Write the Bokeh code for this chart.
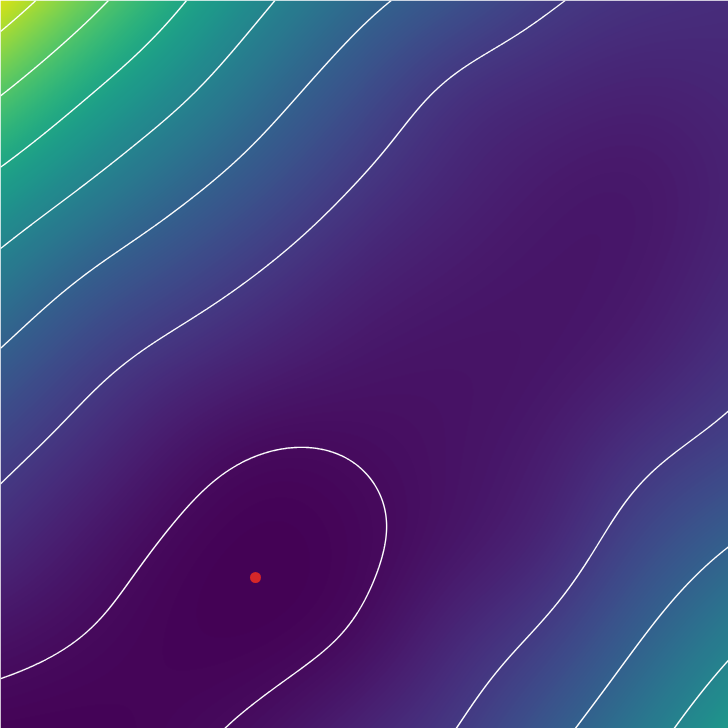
import numpy as np
from bokeh.plotting import figure
from bokeh.models import Range1d, LinearColorMapper
from bokeh.palettes import Viridis256
from bokeh.embed import file_html
from bokeh.resources import INLINE

node_pos = [0, 91, 182, 273, 364, 455, 546, 637, 728]
row_0   = [7.50, 6.22, 5.04, 4.00, 3.17, 2.60, 2.05, 1.80, 1.70]
row_91  = [6.05, 5.00, 4.14, 3.23, 2.47, 1.80, 1.60, 1.45, 1.55]
row_182 = [4.79, 3.96, 3.20, 2.55, 1.93, 1.55, 1.30, 1.22, 1.45]
row_273 = [3.71, 2.92, 2.39, 1.90, 1.50, 1.30, 1.20, 1.25, 1.55]
row_364 = [2.85, 2.15, 1.70, 1.40, 1.20, 1.15, 1.20, 1.40, 1.80]
row_455 = [2.15, 1.65, 1.15, 0.93, 1.02, 1.15, 1.35, 1.85, 2.22]
row_546 = [1.67, 1.20, 0.90, 0.82, 0.92, 1.20, 1.55, 2.35, 3.00]
row_637 = [1.12, 0.97, 0.85, 0.85, 1.03, 1.60, 2.10, 2.95, 3.80]
row_728 = [0.87, 0.85, 0.93, 1.10, 1.50, 1.97, 2.73, 3.60, 4.60]
contour_levels = [1, 2, 3, 4, 5, 6, 7]
color_low, color_high = 0.8, 7.94
minimum_point = (255, 577)  # screen position of the marked minimum

rows = [row_0, row_91, row_182, row_273, row_364, row_455, row_546, row_637, row_728]
Zs = np.array(rows, dtype=float)


def cr_matrix(n, m):
    M = np.zeros((m, n))
    u = np.linspace(0, n - 1, m)
    for k, uu in enumerate(u):
        i = min(int(np.floor(uu)), n - 2)
        t = uu - i
        t2, t3 = t * t, t * t * t
        w = [-0.5 * t3 + t2 - 0.5 * t,
             1.5 * t3 - 2.5 * t2 + 1,
             -1.5 * t3 + 2 * t2 + 0.5 * t,
             0.5 * t3 - 0.5 * t2]
        for j, wj in zip(range(i - 1, i + 3), w):
            if j < 0:
                M[k, 0] += 2 * wj
                M[k, 1] -= wj
            elif j > n - 1:
                M[k, n - 1] += 2 * wj
                M[k, n - 2] -= wj
            else:
                M[k, j] += wj
    return M


def blur_matrix(m, sigma):
    r = int(3 * sigma)
    k = np.exp(-0.5 * (np.arange(-r, r + 1) / sigma) ** 2)
    k /= k.sum()
    # padding operator with odd reflection (keeps linear trends at edges)
    P = np.zeros((m + 2 * r, m))
    for a in range(m + 2 * r):
        j = a - r
        if j < 0:
            P[a, 0] += 2
            P[a, -j] -= 1
        elif j > m - 1:
            P[a, m - 1] += 2
            P[a, 2 * (m - 1) - j] -= 1
        else:
            P[a, j] = 1
    G = np.zeros((m, m + 2 * r))
    for i in range(m):
        G[i, i:i + 2 * r + 1] = k
    return G @ P


N = 729
M = cr_matrix(len(node_pos), N)
B = blur_matrix(N, 34.0)
T = B @ M
Zf = T @ Zs @ T.T          # screen order (top row first)
Zup = np.flipud(Zf)        # bottom row first for bokeh
xs = np.linspace(node_pos[0], node_pos[-1], N)
ys = np.linspace(0, 728, N)

p = figure(width=728, height=728, output_backend="svg", toolbar_location=None,
           x_range=Range1d(0, 728), y_range=Range1d(0, 728), min_border=0)
p.axis.visible = False
p.grid.visible = False
p.outline_line_color = None

cmap = LinearColorMapper(palette=Viridis256, low=color_low, high=color_high)
p.image(image=[Zup], x=0, y=0, dw=728, dh=728, color_mapper=cmap)
p.contour(xs, ys, Zup, levels=contour_levels, line_color="white", line_width=1.4)
p.scatter([minimum_point[0]], [728 - minimum_point[1]], size=11, color="#d62728", line_color=None)

open("out.html", "w").write(file_html(p, INLINE))
